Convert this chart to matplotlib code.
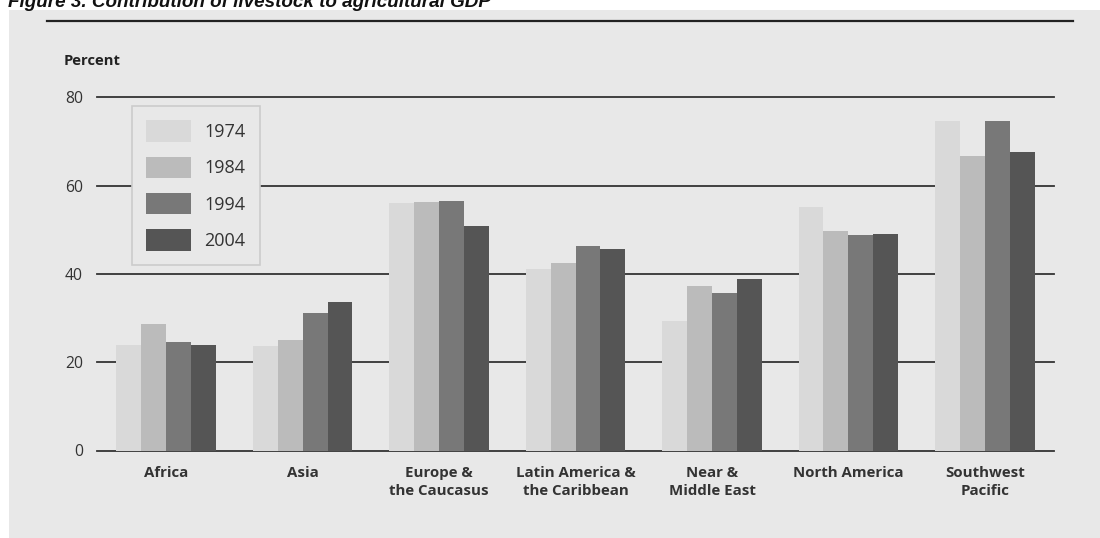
import numpy as np
import matplotlib
matplotlib.use("Agg")
import matplotlib.pyplot as plt
from matplotlib.patches import Rectangle
from matplotlib.lines import Line2D

# data
regions = ["Africa", "Asia", "Europe &\nthe Caucasus", "Latin America &\nthe Caribbean",
           "Near &\nMiddle East", "North America", "Southwest\nPacific"]
years = ["1974", "1984", "1994", "2004"]
v1974 = [23.9, 23.6, 56.0, 41.0, 29.3, 55.1, 74.7]
v1984 = [28.6, 25.0, 56.3, 42.4, 37.3, 49.7, 66.6]
v1994 = [24.6, 31.1, 56.4, 46.4, 35.7, 48.8, 74.7]
v2004 = [24.0, 33.7, 50.9, 45.6, 38.9, 49.1, 67.7]
yticks = [0, 20, 40, 60, 80]

colors = ["#d9d9d9", "#bbbbbb", "#787878", "#555555"]
bg = "#e8e8e8"
W, H = 1100, 538

fig = plt.figure(figsize=(W / 100, H / 100), dpi=100)
fig.patch.set_facecolor("white")

# gray panel and rule under the title
fig.patches.append(Rectangle((9 / W, 0), 1 - 9 / W, 1 - 10 / H, transform=fig.transFigure,
                             facecolor=bg, edgecolor="none", zorder=-10))
fig.lines.append(Line2D([47 / W, 1073 / W], [1 - 21 / H, 1 - 21 / H], transform=fig.transFigure,
                        color="#222222", lw=1.6, zorder=-5))
fig.text(8 / W, 1 - 7 / H, "Figure 3. Contribution of livestock to agricultural GDP",
         fontfamily="Liberation Sans", fontweight="bold", fontstyle="italic",
         fontsize=13.6, color="#111111", va="baseline", ha="left", zorder=-6)

ax = fig.add_axes([97 / W, 1 - 450.5 / H, (1054 - 97) / W, (450.5 - 97.3) / H])
ax.patch.set_alpha(0)

x = np.arange(len(regions))
bw = 0.183
series = [v1974, v1984, v1994, v2004]
for i, vals in enumerate(series):
    ax.bar(x + (i - 1.5) * bw, vals, width=bw, color=colors[i], label=years[i], zorder=3)

for t in yticks:
    ax.axhline(t, color="#333333", lw=1.3, zorder=1, clip_on=False)

ax.set_xlim(-0.506, 6.506)
ax.set_ylim(0, 80)
for s in ax.spines.values():
    s.set_visible(False)
ax.set_yticks(yticks)
ax.set_yticklabels([str(t) for t in yticks], fontfamily="Open Sans", fontsize=11.3, color="#333333")
ax.tick_params(axis="y", length=0, pad=10)
ax.set_xticks(x)
ax.set_xticklabels(regions, fontfamily="Open Sans", fontweight="bold", fontsize=10.8,
                   color="#333333", linespacing=1.38)
ax.tick_params(axis="x", length=0, pad=11)

fig.text(64 / W, 1 - 61 / H, "Percent", fontfamily="Open Sans", fontweight="bold",
         fontsize=10.6, color="#222222", va="center", ha="left")

leg = ax.legend(loc="upper left", bbox_to_anchor=(131.7 / W, 1 - 106 / H),
                bbox_transform=fig.transFigure, prop={"family": "Open Sans", "size": 13},
                frameon=True, fancybox=False, facecolor=bg, edgecolor="#cccccc",
                handlelength=2.5, handleheight=1.45, labelspacing=0.82, handletextpad=0.72,
                borderpad=0.8, borderaxespad=0)
leg.get_frame().set_linewidth(1.2)
leg.get_frame().set_alpha(1)
for txt in leg.get_texts():
    txt.set_color("#333333")

fig.savefig("out.png", dpi=100, facecolor=fig.get_facecolor())
